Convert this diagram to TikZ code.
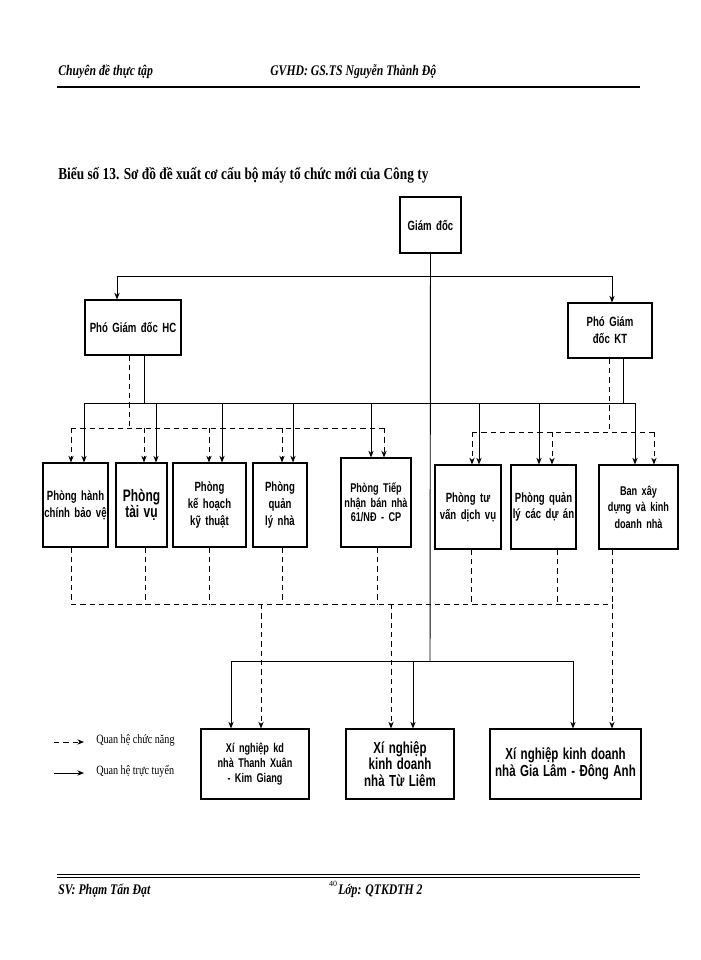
\documentclass[tikz,border=0pt]{standalone}
\usepackage{fontspec}
\setmainfont{Liberation Serif}
\newfontfamily\bxfont{Liberation Sans}[FakeStretch=0.72]
\newfontfamily\cserif{Liberation Serif}[FakeStretch=0.8]
\usetikzlibrary{arrows.meta}
\begin{document}
\begin{tikzpicture}[x=0.75pt,y=-0.75pt,
  box/.style={draw,line width=0.9pt,align=center,inner sep=0pt,font=\bxfont\bfseries\fontsize{10}{12.5}\selectfont},
  sol/.style={line width=0.7pt},
  dsh/.style={line width=0.7pt,dash pattern=on 4pt off 3pt},
  arr/.style={-{Stealth[length=5pt,width=4pt]}},
  hd/.style={font=\cserif\bfseries\itshape\fontsize{11}{13}\selectfont,anchor=west,inner sep=0pt}]
\useasboundingbox (0,0) rectangle (700,960);
\newcommand\bx[6]{\node[box,minimum width={0.75pt*(#4-#2)},minimum height={0.75pt*(#5-#3)},text width={0.75pt*(#4-#2)-2pt}] (#1) at ({(#2+#4)/2},{(#3+#5)/2}) {#6};}
% header / footer
\node[hd] (h1) at (58,72) {Chuyên đề thực tập};
\node[hd] (h2) at (270,72) {GVHD: GS.TS Nguyễn Thành Độ};
\draw[line width=2pt] (57,87) -- (640,87);
\draw[line width=0.6pt] (57,874) -- (640,874);
\draw[line width=0.6pt] (57,877) -- (640,877);
\node[hd] (f1) at (58,891) {SV: Phạm Tấn Đạt};
\node[font=\fontsize{6}{7}\selectfont,inner sep=0pt] (f0) at (333,884) {40};
\node[hd] (f2) at (338,891) {Lớp: QTKDTH 2};
\node[font=\cserif\bfseries\fontsize{12.5}{14}\selectfont,anchor=west,inner sep=0pt] (t) at (58,175) {Biểu số 13. Sơ đồ đề xuất cơ cấu bộ máy tổ chức mới của Công ty};
% boxes
\bx{gd}{400}{197}{461}{253}{Giám đốc}
\bx{hc}{85}{300}{181}{355}{Phó Giám đốc HC}
\bx{kt}{568}{303}{652}{358}{Phó Giám đốc KT}
\bx{b1}{43}{463}{108}{547}{Phòng hành chính bảo vệ}
\bx{b2}{116}{463}{167}{547}{\fontsize{12.5}{15}\selectfont Phòng tài vụ}
\bx{b3}{173}{463}{246}{547}{Phòng kế hoạch kỹ thuật}
\bx{b4}{253}{463}{307}{547}{Phòng quản lý nhà}
\bx{b5}{341}{458}{411}{547}{\fontsize{9.5}{11}\selectfont Phòng Tiếp nhận bán nhà 61/NĐ - CP\\[8pt]}
\bx{b6}{435}{465}{501}{549}{Phòng tư vấn dịch vụ}
\bx{b7}{511}{465}{576}{549}{Phòng quản lý các dự án}
\bx{b8}{599}{465}{678}{549}{\fontsize{9.5}{12}\selectfont Ban xây dựng và kinh doanh nhà}
\bx{x1}{201}{729}{309}{799}{\fontsize{9.5}{11.5}\selectfont Xí nghiệp kd nhà Thanh Xuân - Kim Giang\\[10pt]}
\bx{x2}{346}{729}{454}{799}{\fontsize{12}{16}\selectfont Xí nghiệp kinh doanh nhà Từ Liêm}
\bx{x3}{490}{729}{641}{799}{\fontsize{12}{16}\selectfont Xí nghiệp kinh doanh nhà Gia Lâm - Đông Anh}
% top level
\draw[sol] (gd.south) -- (430,661);
\draw[sol,arr] (430,276) -| (hc.north -| 117,0);
\draw[sol,arr] (430,276) -| (kt.north -| 612,0);
% solid bus row
\draw[sol] (144,355 |- hc.south) -- (144,403);
\draw[sol] (623,358 |- kt.south) -- (623,403);
\draw[sol] (84,403) -- (635,403);
\foreach \xx/\b in {84/b1,156/b2,222/b3,293/b4,371/b5,479/b6,539/b7,635/b8}
  \draw[sol,arr] (\xx,403) -- (\xx,0 |- \b.north);
% dashed bus row
\draw[dsh] (129,355 |- hc.south) -- (129,428);
\draw[dsh] (71,428) -- (384,428);
\foreach \xx/\b in {71/b1,144/b2,209/b3,282/b4,384/b5}
  \draw[dsh,arr] (\xx,428) -- (\xx,0 |- \b.north);
\draw[dsh] (609,358 |- kt.south) -- (609,432);
\draw[dsh] (472,432) -- (654,432);
\foreach \xx/\b in {472/b6,552/b7,654/b8}
  \draw[dsh,arr] (\xx,432) -- (\xx,0 |- \b.north);
% dashed from row boxes to lower
\foreach \xx/\b in {71/b1,145/b2,209/b3,282/b4,377/b5,471/b6,557/b7,612/b8}
  \draw[dsh] (\xx,0 |- \b.south) -- (\xx,604);
\draw[dsh] (71,604) -- (612,604);
\foreach \xx/\b in {261/x1,391/x2,612/x3}
  \draw[dsh,arr] (\xx,604) -- (\xx,0 |- \b.north);
% solid lower bus
\draw[sol] (231,661) -- (573,661);
\foreach \xx/\b in {231/x1,413/x2,573/x3}
  \draw[sol,arr] (\xx,661) -- (\xx,0 |- \b.north);
% legend
\coordinate (l1a) at (54,742); \coordinate (l1b) at (84,742);
\coordinate (l2a) at (54,773); \coordinate (l2b) at (84,773);
\draw[dsh,arr] (l1a) -- (l1b);
\draw[sol,arr] (l2a) -- (l2b);
\node[anchor=west,inner sep=0pt,font=\cserif\fontsize{9.5}{11}\selectfont] (lg1) at (96,740) {Quan hệ chức năng};
\node[anchor=west,inner sep=0pt,font=\cserif\fontsize{9.5}{11}\selectfont] (lg2) at (96,771) {Quan hệ trực tuyến};
\end{tikzpicture}
\end{document}
